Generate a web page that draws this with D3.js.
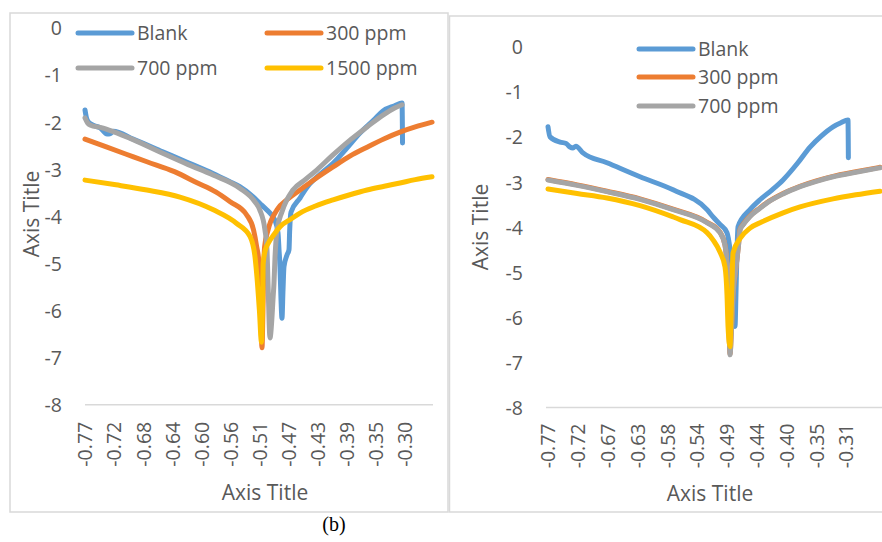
<!DOCTYPE html>
<html><head><meta charset="utf-8">
<script src="https://cdn.jsdelivr.net/npm/d3@7"></script>
<style>
body{margin:0;background:#fff}
svg{display:block}
text{font-family:'Open Sans',sans-serif;fill:#595959}
</style>
</head><body>
<svg id="c" width="882" height="542"></svg>
<script>
// ---------- data ----------
const seriesNames = ["Blank", "300 ppm", "700 ppm", "1500 ppm"];
const seriesColors = ["#5B9BD5", "#ED7D31", "#A5A5A5", "#FFC000"];
const yTickValues = [0, -1, -2, -3, -4, -5, -6, -7, -8];
const leftXTickLabels = ["-0.77","-0.72","-0.68","-0.64","-0.60","-0.56","-0.51","-0.47","-0.43","-0.39","-0.35","-0.30"];
const rightXTickLabels = ["-0.77","-0.72","-0.67","-0.63","-0.58","-0.54","-0.49","-0.44","-0.40","-0.35","-0.31"];
const xTitle = "Axis Title";
const yTitle = "Axis Title";
const caption = "(b)";

// left chart (x = potential, y = log i)
const leftBlank = [[-0.770,-1.74],[-0.768,-1.90],[-0.765,-2.00],[-0.757,-2.07],[-0.748,-2.12],[-0.738,-2.25],[-0.733,-2.24],[-0.729,-2.19],[-0.700,-2.36],[-0.657,-2.63],[-0.620,-2.86],[-0.584,-3.09],[-0.560,-3.26],[-0.545,-3.37],[-0.526,-3.58],[-0.516,-3.72],[-0.506,-3.86],[-0.494,-4.08],[-0.4895,-4.35],[-0.488,-4.71],[-0.4866,-5.07],[-0.4851,-5.77],[-0.4837,-6.16],[-0.4822,-5.56],[-0.4808,-5.07],[-0.4764,-4.82],[-0.4735,-4.71],[-0.4725,-4.29],[-0.4706,-3.91],[-0.4575,-3.61],[-0.4473,-3.38],[-0.4280,-3.10],[-0.4095,-2.87],[-0.3900,-2.56],[-0.3703,-2.23],[-0.3500,-1.95],[-0.3369,-1.76],[-0.3200,-1.65],[-0.3092,-1.59],[-0.3085,-2.44]];
const leftP300 = [[-0.770,-2.36],[-0.740,-2.52],[-0.710,-2.68],[-0.680,-2.84],[-0.640,-3.05],[-0.608,-3.28],[-0.580,-3.48],[-0.559,-3.69],[-0.535,-3.97],[-0.525,-4.29],[-0.5205,-4.64],[-0.5170,-5.0],[-0.5150,-5.6],[-0.5140,-6.3],[-0.5127,-6.79],[-0.5115,-6.1],[-0.5105,-5.3],[-0.5090,-4.65],[-0.5040,-4.29],[-0.4909,-3.86],[-0.4750,-3.63],[-0.4575,-3.44],[-0.4350,-3.20],[-0.4095,-2.95],[-0.3850,-2.72],[-0.3601,-2.53],[-0.3350,-2.35],[-0.3122,-2.21],[-0.2900,-2.10],[-0.2656,-2.00]];
const leftP700 = [[-0.770,-1.91],[-0.766,-2.02],[-0.7627,-2.06],[-0.745,-2.12],[-0.729,-2.20],[-0.700,-2.37],[-0.657,-2.66],[-0.620,-2.90],[-0.584,-3.12],[-0.545,-3.40],[-0.523,-3.69],[-0.516,-3.86],[-0.5084,-4.29],[-0.5055,-4.71],[-0.5040,-5.41],[-0.5011,-6.58],[-0.4985,-6.2],[-0.4968,-5.77],[-0.4953,-5.41],[-0.4938,-4.86],[-0.4909,-4.30],[-0.4837,-3.90],[-0.4677,-3.44],[-0.4500,-3.22],[-0.4328,-3.01],[-0.4100,-2.70],[-0.3848,-2.38],[-0.3600,-2.10],[-0.3369,-1.85],[-0.3200,-1.70],[-0.3092,-1.63]];
const leftP1500 = [[-0.770,-3.23],[-0.725,-3.33],[-0.680,-3.44],[-0.632,-3.59],[-0.5835,-3.86],[-0.5495,-4.15],[-0.530,-4.43],[-0.5229,-4.86],[-0.5200,-5.3],[-0.5165,-6.0],[-0.5135,-6.67],[-0.5120,-5.9],[-0.5110,-5.0],[-0.5080,-4.72],[-0.5036,-4.57],[-0.4950,-4.38],[-0.4866,-4.22],[-0.4700,-4.05],[-0.4575,-3.93],[-0.4350,-3.78],[-0.4095,-3.65],[-0.3850,-3.54],[-0.3601,-3.44],[-0.3350,-3.36],[-0.3122,-3.29],[-0.2900,-3.22],[-0.2656,-3.16]];

// right chart
const rightBlank = [[-0.770,-1.77],[-0.767,-1.99],[-0.7515,-2.11],[-0.742,-2.14],[-0.736,-2.22],[-0.7314,-2.24],[-0.727,-2.20],[-0.716,-2.35],[-0.679,-2.57],[-0.628,-2.88],[-0.577,-3.17],[-0.5246,-3.61],[-0.5154,-3.77],[-0.505,-3.93],[-0.4938,-4.12],[-0.4890,-4.50],[-0.4860,-4.88],[-0.4835,-5.6],[-0.4814,-6.20],[-0.4800,-5.5],[-0.4785,-4.6],[-0.4768,-3.99],[-0.4583,-3.61],[-0.4429,-3.39],[-0.4250,-3.18],[-0.4073,-2.95],[-0.3850,-2.58],[-0.3657,-2.22],[-0.3480,-1.97],[-0.3302,-1.77],[-0.3180,-1.68],[-0.3071,-1.62],[-0.3065,-2.46]];
const rightP300 = [[-0.770,-2.94],[-0.725,-3.06],[-0.679,-3.20],[-0.628,-3.37],[-0.577,-3.60],[-0.5246,-3.89],[-0.5046,-4.11],[-0.4969,-4.39],[-0.4938,-4.87],[-0.4922,-5.6],[-0.4906,-6.3],[-0.4891,-6.81],[-0.4870,-6.3],[-0.4845,-5.5],[-0.4800,-4.9],[-0.4760,-4.39],[-0.4737,-4.05],[-0.4691,-3.94],[-0.4583,-3.75],[-0.4429,-3.57],[-0.4320,-3.45],[-0.4073,-3.25],[-0.3811,-3.09],[-0.3560,-2.97],[-0.3302,-2.87],[-0.2950,-2.77],[-0.2577,-2.67]];
const rightP700 = [[-0.770,-2.95],[-0.725,-3.07],[-0.679,-3.21],[-0.628,-3.38],[-0.577,-3.61],[-0.5246,-3.90],[-0.5046,-4.12],[-0.4969,-4.40],[-0.4938,-4.88],[-0.4922,-5.6],[-0.4906,-6.3],[-0.4891,-6.83],[-0.4870,-6.3],[-0.4845,-5.5],[-0.4800,-4.9],[-0.4760,-4.40],[-0.4737,-4.06],[-0.4691,-3.95],[-0.4583,-3.76],[-0.4429,-3.58],[-0.4320,-3.46],[-0.4073,-3.26],[-0.3811,-3.10],[-0.3560,-2.98],[-0.3302,-2.88],[-0.2950,-2.78],[-0.2577,-2.68]];
const rightP1500 = [[-0.770,-3.15],[-0.725,-3.25],[-0.679,-3.35],[-0.628,-3.52],[-0.577,-3.77],[-0.5663,-3.83],[-0.5246,-4.12],[-0.5154,-4.28],[-0.5046,-4.55],[-0.4969,-4.88],[-0.4938,-5.5],[-0.4922,-6.2],[-0.4891,-6.65],[-0.4876,-6.0],[-0.4860,-5.2],[-0.4845,-4.57],[-0.4737,-4.25],[-0.4583,-4.02],[-0.4397,-3.88],[-0.4073,-3.68],[-0.3811,-3.55],[-0.3302,-3.37],[-0.2950,-3.28],[-0.2577,-3.20]];

// ---------- drawing ----------
const svg = d3.select("#c");
svg.append("rect").attr("width", 882).attr("height", 542).attr("fill", "#fff");

function drawPanel(cfg) {
  const g = svg.append("g");
  g.append("rect").attr("x", cfg.box[0]).attr("y", cfg.box[1])
    .attr("width", cfg.box[2]).attr("height", cfg.box[3])
    .attr("fill", "none").attr("stroke", "#d9d9d9").attr("stroke-width", 1.5);

  const x = d3.scaleLinear().domain(cfg.xDomain).range(cfg.xRange);
  const y = d3.scaleLinear().domain([-8, 0]).range(cfg.yRange);

  const yAxis = d3.axisLeft(y).tickValues(yTickValues).tickSize(0).tickPadding(0)
    .tickFormat(d => d3.format("d")(d).replace("−", "-"));
  const ya = g.append("g").attr("transform", `translate(${cfg.yLabelX},0)`).call(yAxis);
  ya.select(".domain").remove();
  ya.selectAll("text").attr("font-size", 19.5).attr("dy", "0.35em");

  g.append("line").attr("x1", cfg.axisLine[0]).attr("x2", cfg.axisLine[1])
    .attr("y1", y(-8)).attr("y2", y(-8)).attr("stroke", "#d9d9d9").attr("stroke-width", 1.5);

  const xTickVals = cfg.labels.map((_, i) => cfg.xDomain[0] + i * cfg.xStep);
  const xAxis = d3.axisBottom(x).tickValues(xTickVals).tickSize(0).tickPadding(0)
    .tickFormat((d, i) => cfg.labels[i]);
  const xa = g.append("g").attr("transform", `translate(0,${y(-8) + cfg.xLabelGap})`).call(xAxis);
  xa.select(".domain").remove();
  xa.selectAll("text").attr("font-size", 19.5)
    .attr("transform", "rotate(-90)").attr("text-anchor", "end")
    .attr("x", 0).attr("y", 0).attr("dy", "0.35em");

  const line = d3.line().curve(d3.curveMonotoneX).x(d => x(d[0])).y(d => y(d[1]));
  cfg.series.forEach((s, i) => {
    g.append("path").datum(s).attr("d", line).attr("fill", "none")
      .attr("stroke", seriesColors[i]).attr("stroke-width", 5)
      .attr("stroke-linejoin", "round").attr("stroke-linecap", "round");
  });

  cfg.legend.forEach((p, i) => {
    g.append("line").attr("x1", p[0]).attr("x2", p[0] + cfg.legendLen)
      .attr("y1", p[1]).attr("y2", p[1]).attr("stroke", seriesColors[i])
      .attr("stroke-width", 5).attr("stroke-linecap", "round");
    g.append("text").attr("x", p[0] + cfg.legendLen + 5).attr("y", p[1])
      .attr("dy", "0.35em").attr("font-size", 19.5).text(seriesNames[i]);
  });

  g.append("text").attr("x", cfg.xTitle[0]).attr("y", cfg.xTitle[1])
    .attr("text-anchor", "middle").attr("dy", "0.35em").attr("font-size", 21).text(xTitle);
  g.append("text").attr("transform", `translate(${cfg.yTitle[0]},${cfg.yTitle[1]}) rotate(-90)`)
    .attr("text-anchor", "middle").attr("dy", "0.35em").attr("font-size", 21).text(yTitle);
}

drawPanel({
  box: [10, 13, 438, 499],
  xDomain: [-0.77, -0.2642], xRange: [85, 433], xStep: 0.0423,
  yRange: [404.8, 28], yLabelX: 62,
  axisLine: [85, 433], xLabelGap: 17,
  labels: leftXTickLabels,
  series: [leftBlank, leftP300, leftP700, leftP1500],
  legend: [[78, 33], [267, 33], [78, 68], [267, 68]], legendLen: 54,
  xTitle: [265, 493], yTitle: [32, 214]
});

drawPanel({
  box: [449.5, 16, 440, 496],
  xDomain: [-0.77, -0.2577], xRange: [548, 880], xStep: 0.046,
  yRange: [407.5, 47], yLabelX: 523,
  axisLine: [546, 882], xLabelGap: 16,
  labels: rightXTickLabels,
  series: [rightBlank, rightP300, rightP700, rightP1500],
  legend: [[639, 49], [639, 77], [639, 106]], legendLen: 54,
  xTitle: [710, 494], yTitle: [481, 227]
});

svg.append("text").attr("x", 334).attr("y", 524).attr("dy", "0.35em")
  .attr("text-anchor", "middle")
  .style("font-family", "'Liberation Serif','Times New Roman',serif")
  .style("font-size", "20px").style("fill", "#000").text(caption);
</script>
</body></html>
